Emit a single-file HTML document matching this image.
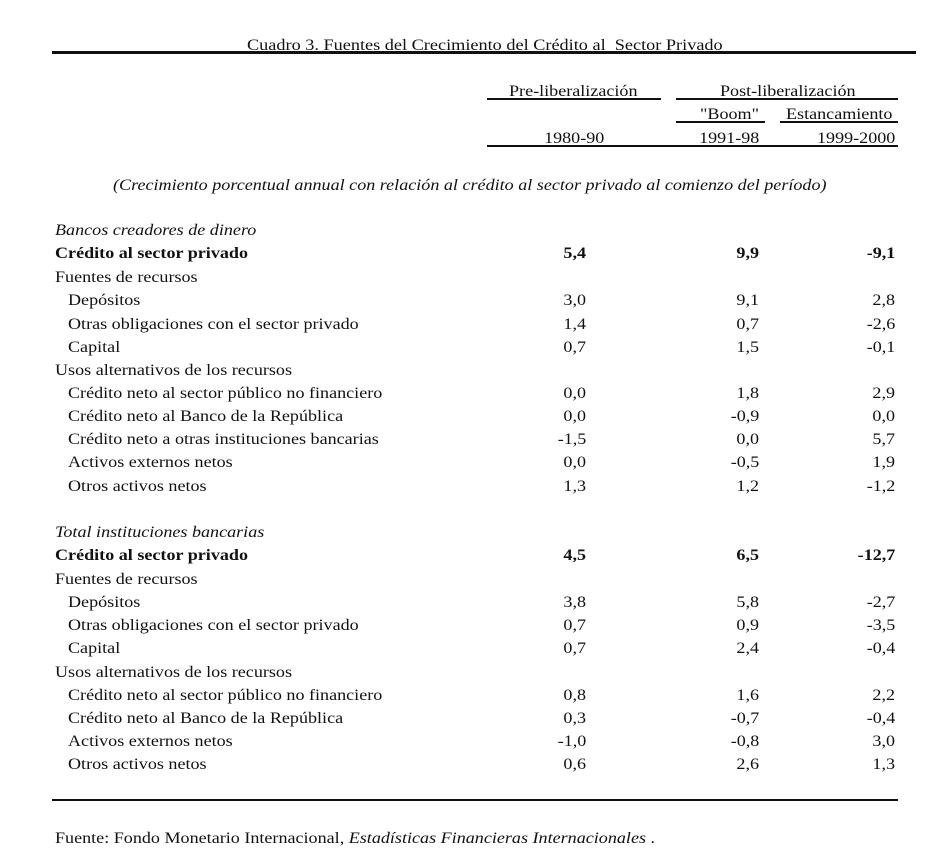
<!DOCTYPE html>
<html><head><meta charset="utf-8"><style>
body{margin:0;width:944px;height:857px;background:#fff;position:relative;font-family:"Liberation Serif",serif;font-size:16px;color:#111;overflow:hidden}
.t{position:absolute;white-space:nowrap;line-height:18px;transform:scaleX(1.13);transform-origin:left center}
.r{position:absolute;white-space:nowrap;line-height:18px;text-align:right;transform:scaleX(1.13);transform-origin:right center}
.l{position:absolute;background:#111}
i{font-style:italic}
</style></head><body>
<div class="t" style="left:247px;top:37px;transform:scaleX(1.14)">Cuadro 3. Fuentes del Crecimiento del Crédito al&nbsp; Sector Privado</div>
<div class="l" style="left:52px;top:51px;width:864px;height:3px"></div>
<div class="t" style="left:509px;top:83px">Pre-liberalización</div>
<div class="l" style="left:487px;top:98px;width:174px;height:2px"></div>
<div class="t" style="left:720px;top:83px">Post-liberalización</div>
<div class="l" style="left:676px;top:98px;width:222px;height:2px"></div>
<div class="t" style="left:700px;top:106px">"Boom"</div>
<div class="l" style="left:676px;top:121px;width:89px;height:2px"></div>
<div class="t" style="left:786px;top:106px">Estancamiento</div>
<div class="l" style="left:780px;top:121px;width:118px;height:2px"></div>
<div class="r" style="right:340px;top:130px">1980-90</div>
<div class="r" style="right:185px;top:130px">1991-98</div>
<div class="r" style="right:49px;top:130px">1999-2000</div>
<div class="l" style="left:487px;top:145px;width:411px;height:2px"></div>
<div class="t" style="left:113px;top:177px"><i>(Crecimiento porcentual annual con relación al crédito al sector privado al comienzo del período)</i></div>
<div id="rows"></div>
<div class="l" style="left:52px;top:799px;width:846px;height:2px"></div>
<div class="t" style="left:55px;top:830px">Fuente: Fondo Monetario Internacional, <i>Estadísticas Financieras Internacionales</i> .</div>
<script>
var rows=[
[230,"<i>Bancos creadores de dinero</i>",0],
[253,"<b>Crédito al sector privado</b>",0,"<b>5,4</b>","<b>9,9</b>","<b>-9,1</b>"],
[277,"Fuentes de recursos",0],
[300,"Depósitos",1,"3,0","9,1","2,8"],
[324,"Otras obligaciones con el sector privado",1,"1,4","0,7","-2,6"],
[347,"Capital",1,"0,7","1,5","-0,1"],
[370,"Usos alternativos de los recursos",0],
[393,"Crédito neto al sector público no financiero",1,"0,0","1,8","2,9"],
[416,"Crédito neto al Banco de la República",1,"0,0","-0,9","0,0"],
[439,"Crédito neto a otras instituciones bancarias",1,"-1,5","0,0","5,7"],
[462,"Activos externos netos",1,"0,0","-0,5","1,9"],
[486,"Otros activos netos",1,"1,3","1,2","-1,2"],
[532,"<i>Total instituciones bancarias</i>",0],
[555,"<b>Crédito al sector privado</b>",0,"<b>4,5</b>","<b>6,5</b>","<b>-12,7</b>"],
[579,"Fuentes de recursos",0],
[602,"Depósitos",1,"3,8","5,8","-2,7"],
[625,"Otras obligaciones con el sector privado",1,"0,7","0,9","-3,5"],
[648,"Capital",1,"0,7","2,4","-0,4"],
[672,"Usos alternativos de los recursos",0],
[695,"Crédito neto al sector público no financiero",1,"0,8","1,6","2,2"],
[718,"Crédito neto al Banco de la República",1,"0,3","-0,7","-0,4"],
[741,"Activos externos netos",1,"-1,0","-0,8","3,0"],
[764,"Otros activos netos",1,"0,6","2,6","1,3"]];
var h="";
rows.forEach(function(r){var y=r[0]-8;
h+='<div class="t" style="left:'+(r[2]?68:55)+'px;top:'+y+'px">'+r[1]+'</div>';
if(r[3]){h+='<div class="r" style="right:358px;top:'+y+'px">'+r[3]+'</div>';
h+='<div class="r" style="right:185px;top:'+y+'px">'+r[4]+'</div>';
h+='<div class="r" style="right:49px;top:'+y+'px">'+r[5]+'</div>';}});
document.getElementById("rows").innerHTML=h;
</script>
</body></html>
